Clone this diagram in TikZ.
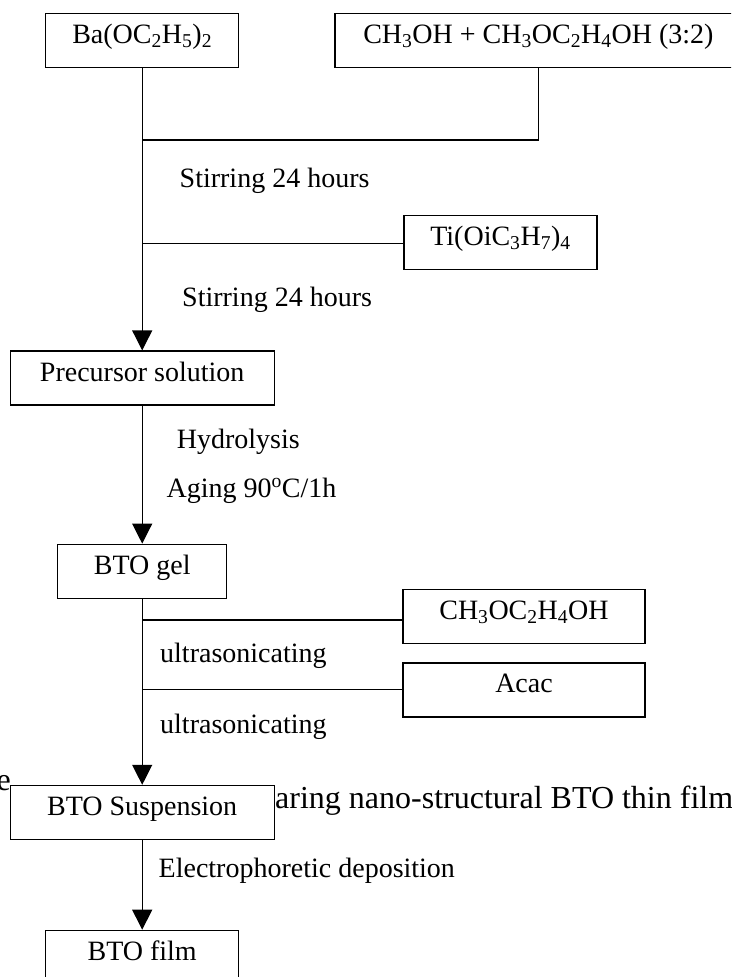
\documentclass[tikz,border=0pt]{standalone}
\usepackage{fontspec}
\setmainfont{Liberation Serif}
\usetikzlibrary{arrows.meta}
\usetikzlibrary{positioning}

\begin{document}
\begin{tikzpicture}[
				x=1pt, y=-1pt,
				font=\fontsize{28}{32}\selectfont,
				line/.style={line width=1.2pt},
				arrow/.style={line width=1.2pt, -{Triangle[length=20pt, width=20pt]}},
				block/.style={draw, line width=1.2pt, fill=white, inner xsep=0pt, inner ysep=0pt, text height=30pt, text depth=24pt},
				note/.style={inner sep=0pt, anchor=base west},
				caption/.style={inner sep=0pt, font=\fontsize{32}{36}\selectfont},
			]
				\useasboundingbox (0,0) rectangle (731,977);
				\clip (0,0) rectangle (731,977);

				\node[caption, anchor=base east] (captionleft) at (11,790) {e};
				\node[caption, anchor=base west] (captionright) at (275,808) {aring nano-structural BTO thin films};

				\node[block, minimum width=193pt] (barium) at (142.2,40.5) {Ba(OC\textsubscript{2}H\textsubscript{5})\textsubscript{2}};
				\node[block, minimum width=407pt, right=95pt of barium] (solvent) {CH\textsubscript{3}OH + CH\textsubscript{3}OC\textsubscript{2}H\textsubscript{4}OH (3:2)};
				\node[block, minimum width=193pt] (titanium) at (500.5,242.5) {Ti(OiC\textsubscript{3}H\textsubscript{7})\textsubscript{4}};
				\node[block, minimum width=264pt, below=282.3pt of barium] (precursor) {Precursor solution};
				\node[block, minimum width=169pt, below=138pt of precursor] (gel) {BTO gel};
				\node[block, minimum width=242pt] (ether) at (524,616.3) {CH\textsubscript{3}OC\textsubscript{2}H\textsubscript{4}OH};
				\node[block, minimum width=242pt, below=18.4pt of ether] (acac) {Acac};
				\node[block, minimum width=264pt, below=186pt of gel] (suspension) {BTO Suspension};
				\node[block, minimum width=193pt, below=89.7pt of suspension] (film) {BTO film};

				\coordinate (mix) at (142.2,140);
				\coordinate (addti) at (142.2,243.7);
				\coordinate (addether) at (142.2,620);
				\coordinate (addacac) at (142.2,689.3);

				\draw[arrow] (barium) -- (precursor);
				\draw[arrow] (precursor) -- (gel);
				\draw[arrow] (gel) -- (suspension);
				\draw[arrow] (suspension) -- (film);

				\draw[line] (solvent) |- (mix);
				\draw[line] (addti) -- (addti -| titanium.west);
				\draw[line] (addether) -- (addether -| ether.west);
				\draw[line] (addacac) -- (addacac -| acac.west);

				\node[note] (stirfirst) at (179.5,187) {Stirring 24 hours};
				\node[note] (stirsecond) at (182,306) {Stirring 24 hours};
				\node[note] (hydrolysis) at (176.7,448) {Hydrolysis};
				\node[note] (aging) at (166.4,497) {Aging 90\textsuperscript{o}C/1h};
				\node[note] (ultrafirst) at (160,662) {ultrasonicating};
				\node[note] (ultrasecond) at (160,733) {ultrasonicating};
				\node[note] (deposition) at (158.5,877) {Electrophoretic deposition};
			\end{tikzpicture}
\end{document}
